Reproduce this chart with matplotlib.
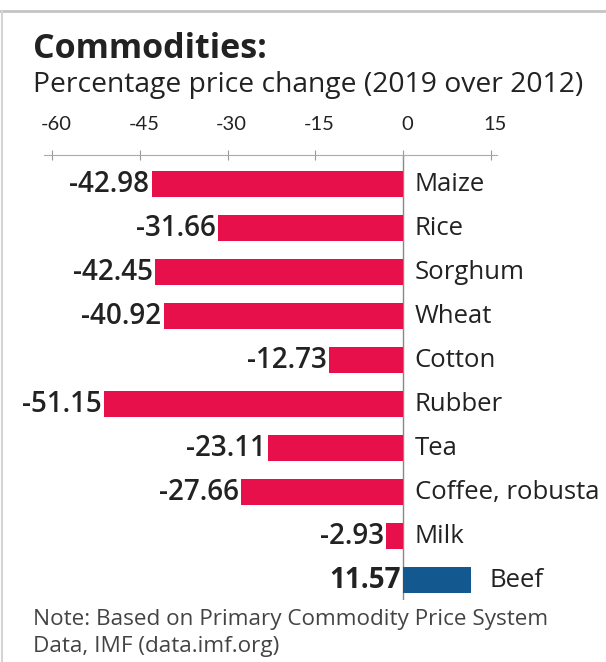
import matplotlib
matplotlib.use("Agg")
from matplotlib import pyplot as plt
from matplotlib.lines import Line2D
from matplotlib.transforms import ScaledTranslation

commodities = ["Maize", "Rice", "Sorghum", "Wheat", "Cotton", "Rubber",
               "Tea", "Coffee, robusta", "Milk", "Beef"]
change = [-42.98, -31.66, -42.45, -40.92, -12.73, -51.15,
          -23.11, -27.66, -2.93, 11.57]
ticks = [-60, -45, -30, -15, 0, 15]

RED = "#e8104a"
BLUE = "#13598f"
TXT = "#222222"

plt.rcParams["font.family"] = ["Open Sans", "DejaVu Sans"]

W, H = 606, 662
fig = plt.figure(figsize=(W / 100, H / 100), dpi=100)
fig.patch.set_facecolor("white")

# frame lines (top and left edge)
fig.add_artist(Line2D([0, 1], [1 - 10.5 / H, 1 - 10.5 / H], color="#c4c4c4", lw=2))
fig.add_artist(Line2D([1.5 / W, 1.5 / W], [0, 1 - 10.5 / H], color="#d4d4d4", lw=1.5))

fig.text(33 / W, 1 - 58 / H, "Commodities:", fontsize=24.5, fontweight="bold",
         color=TXT, va="baseline")
fig.text(33 / W, 1 - 92 / H, "Percentage price change (2019 over 2012)",
         fontsize=20.3, color=TXT, va="baseline")
fig.text(33 / W, 1 - 625 / H, "Note: Based on Primary Commodity Price System",
         fontsize=16.2, color="#444444", va="baseline")
fig.text(33 / W, 1 - 652 / H, "Data, IMF (data.imf.org)",
         fontsize=16.2, color="#444444", va="baseline")

ax_top, ax_bot = 155, 600
ax = fig.add_axes([0, 1 - ax_bot / H, 1, (ax_bot - ax_top) / H])
ppu = 5.85
zero_px = 403
ax.set_xlim(-zero_px / ppu, (W - zero_px) / ppu)
ax.set_ylim(len(commodities) - 1 + 0.45, -0.66)
ax.set_facecolor("none")

colors = [RED if v < 0 else BLUE for v in change]
ax.barh(range(len(commodities)), change, height=0.6, color=colors, zorder=2)
ax.axvline(0, color="#888888", lw=1, zorder=1)

for i, (name, v) in enumerate(zip(commodities, change)):
    ax.annotate(f"{v:.2f}", xy=(min(v, 0), i), xytext=(-1.5, 0),
                textcoords="offset points", ha="right", va="center",
                fontsize=20, fontweight="bold" if v > 0 else "semibold",
                color=TXT)
    ax.annotate(name, xy=(max(v, 0), i), xytext=(8.5 if v < 0 else 13.5, 0),
                textcoords="offset points", ha="left", va="center",
                fontsize=18.5, color=TXT)

for s in ["left", "right", "bottom"]:
    ax.spines[s].set_visible(False)
ax.spines["top"].set_color("#aaaaaa")
ax.spines["top"].set_bounds(-61.3, 16)
ax.xaxis.tick_top()
ax.set_xticks(ticks)
ax.set_xticklabels([str(t) for t in ticks], family=["Lato", "DejaVu Sans"])
ax.tick_params(axis="x", direction="inout", length=7, color="#999999",
               labelsize=14.5, labelcolor=TXT, pad=12)
shift = ScaledTranslation(4 / 100, 0, fig.dpi_scale_trans)
for lbl in ax.get_xticklabels():
    lbl.set_transform(lbl.get_transform() + shift)
ax.set_yticks([])

fig.savefig("out.png", dpi=100)
